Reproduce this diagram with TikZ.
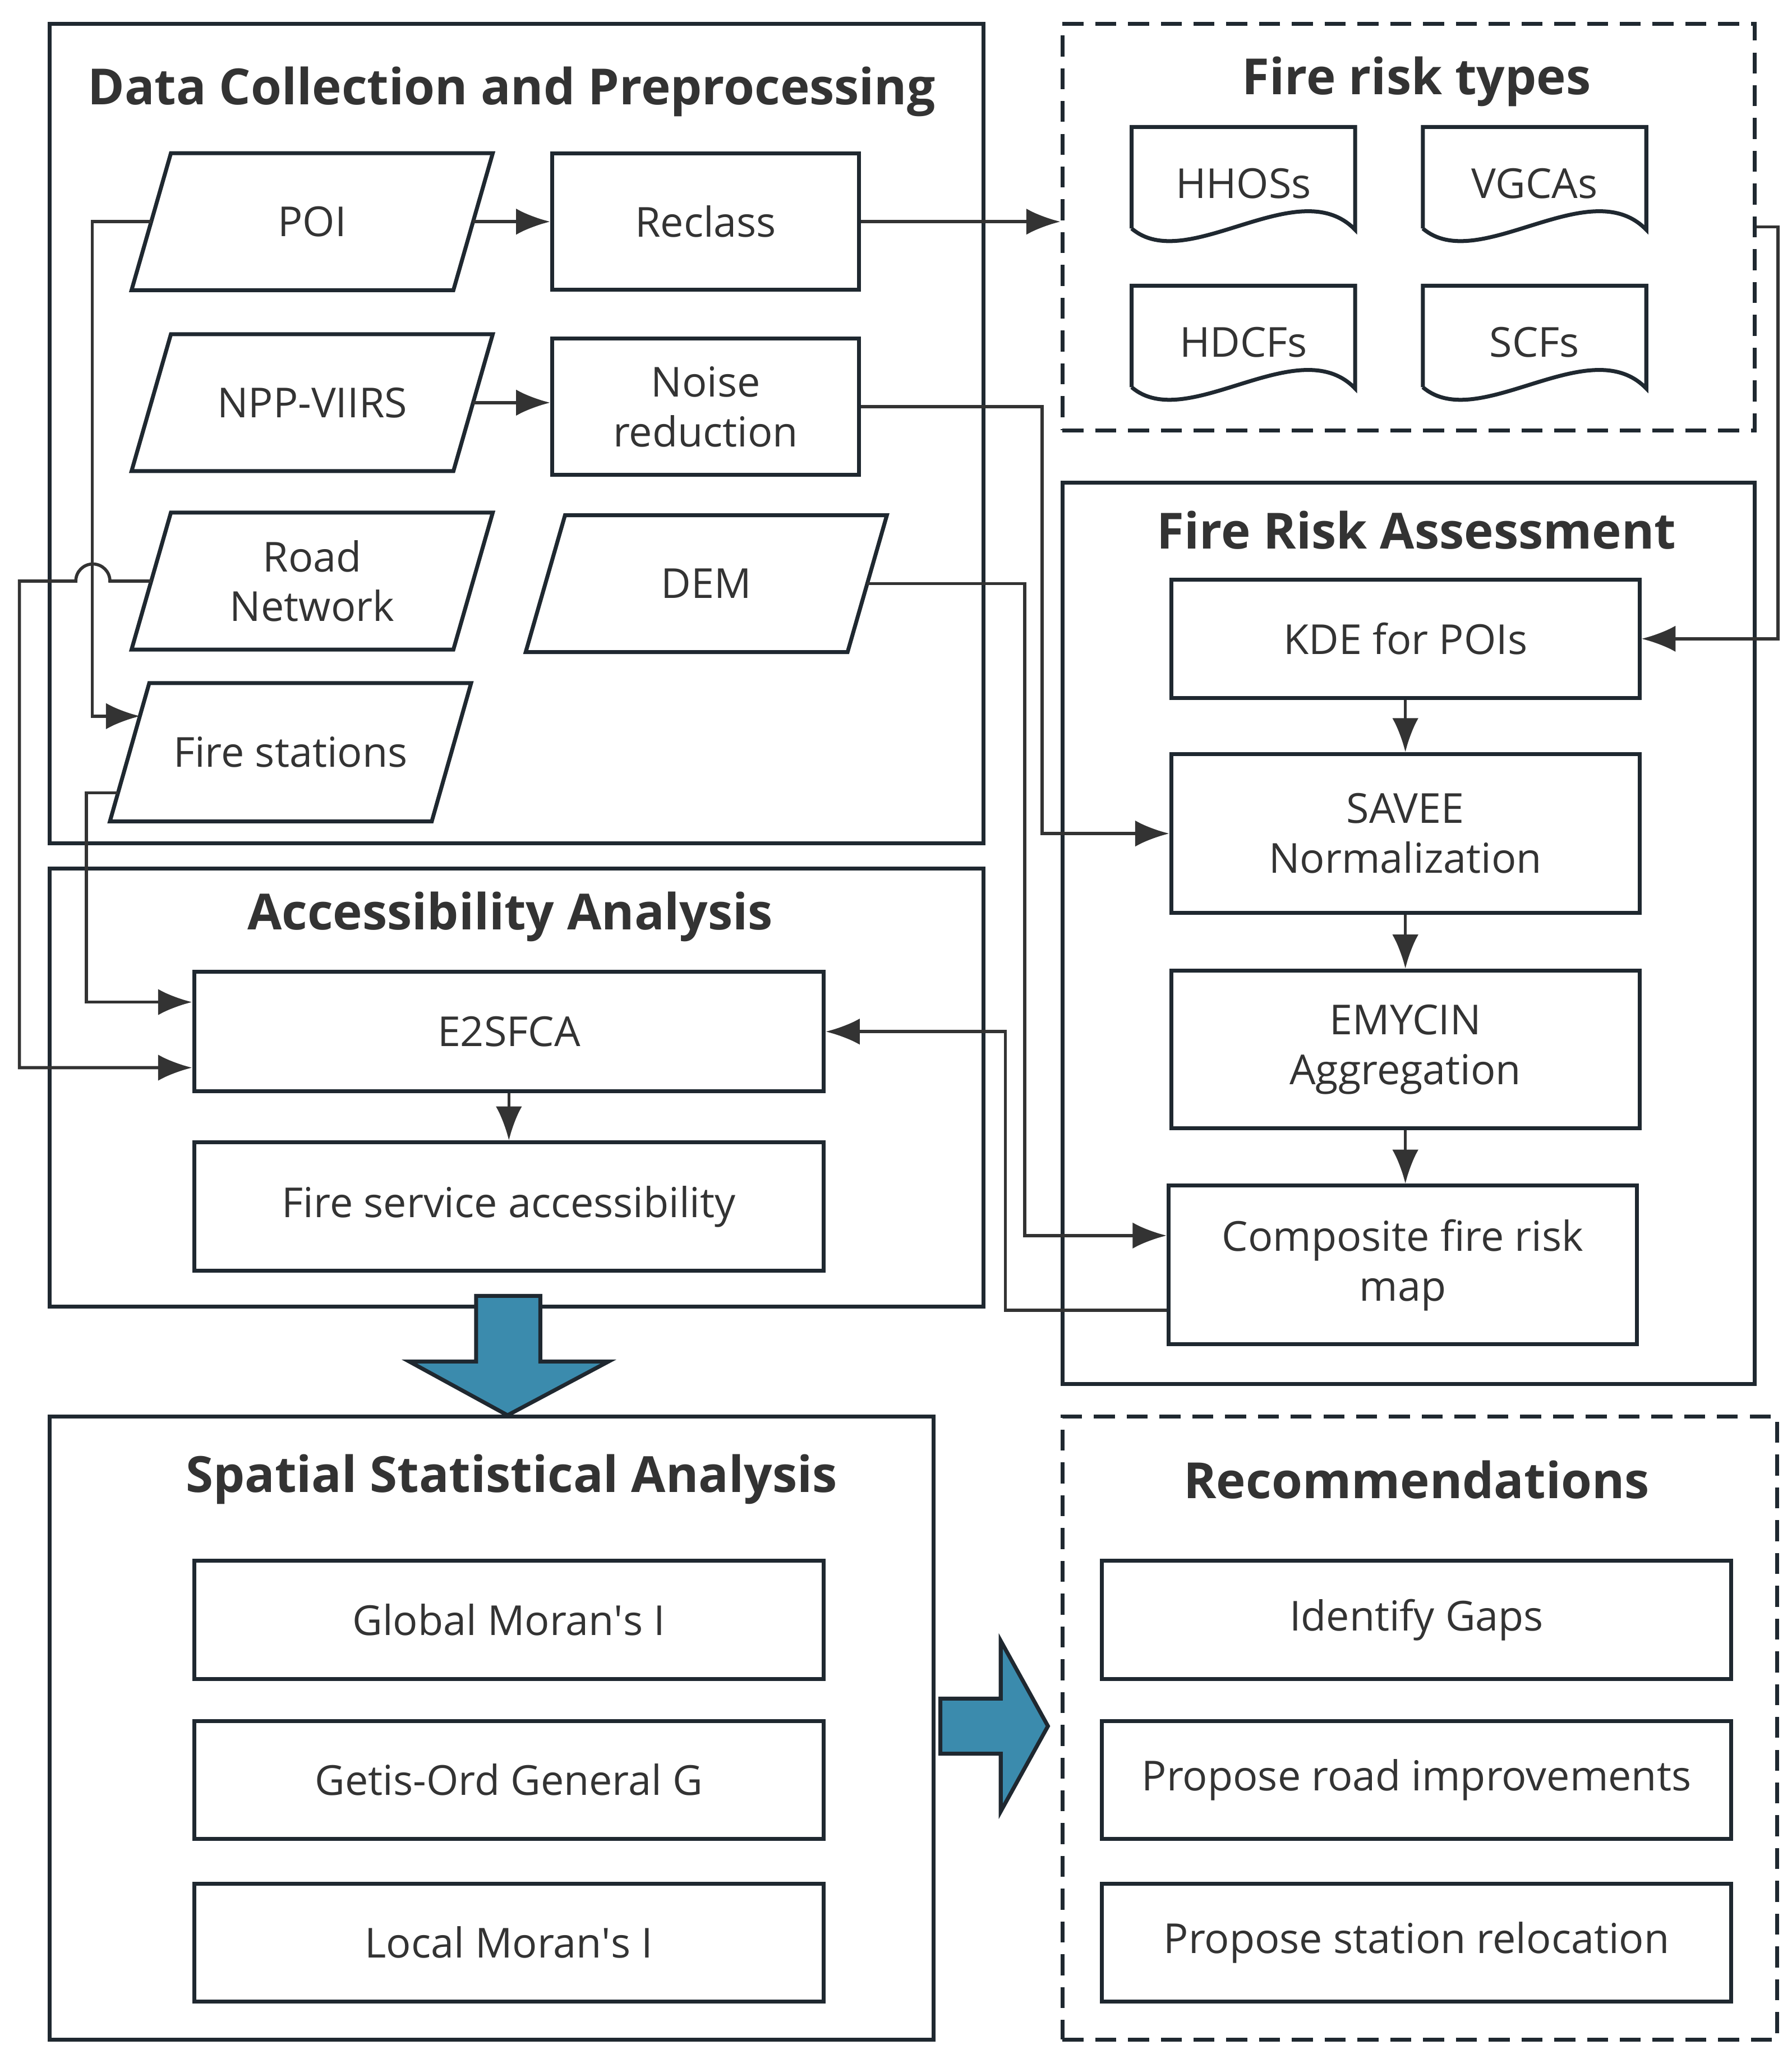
\documentclass[tikz,border=0pt]{standalone}
\usepackage{fontspec}
\setmainfont{Open Sans}
\usetikzlibrary{arrows.meta, calc, positioning}
\definecolor{framec}{HTML}{1F2830}
\definecolor{linec}{HTML}{333333}
\definecolor{arrowblue}{HTML}{3B8BAD}
\tikzset{
  grp/.style={draw=framec, line width=3pt, inner sep=0pt},
  grpdash/.style={grp, dash pattern=on 16pt off 9pt},
  title/.style={font=\fontsize{38}{44}\selectfont\bfseries, text=linec},
  proc/.style={draw=framec, line width=3pt, inner sep=0pt, font=\fontsize{31.5}{38}\selectfont, text=linec, align=center},
  io/.style={inner sep=0pt, minimum width=245, minimum height=104, font=\fontsize{31.5}{38}\selectfont, text=linec, align=center},
  docu/.style={inner sep=0pt, minimum width=170, minimum height=86, font=\fontsize{31.5}{38}\selectfont, text=linec},
  conn/.style={draw=linec, line width=2.4pt, -{Latex[length=26pt,width=20pt]}},
  bigarrow/.style={draw=framec, fill=arrowblue, line width=3pt, line join=miter},
}
\begin{document}
\begin{tikzpicture}[x=1pt, y=-1pt]
\useasboundingbox (0,0) rectangle (1366,1566);
% group frames
\node[grp, minimum width=712, minimum height=625] (dcp) at (394,330.5) {};
\node[grpdash, minimum width=528, minimum height=310] (frt) at (1074,173) {};
\node[grp, minimum width=528, minimum height=687] (fra) at (1074,711.5) {};
\node[grp, minimum width=712, minimum height=334] (acc) at (394,829) {};
\node[grp, minimum width=674, minimum height=475] (ssa) at (375,1317.5) {};
\node[grpdash, minimum width=545, minimum height=475] (rec) at (1082.5,1317.5) {};
\node[title] at (390,70) {Data Collection and Preprocessing};
\node[title] at (1080,62) {Fire risk types};
\node[title] at (1080,404) {Fire Risk Assessment};
\node[title] at (389,699) {Accessibility Analysis};
\node[title] at (390,1128) {Spatial Statistical Analysis};
\node[title] at (1080,1128) {Recommendations};
% data inputs
\node[io] (poi) at (238,169) {POI};
\node[io] (npp) at (238,307) {NPP-VIIRS};
\node[io] (road) at (238,443) {Road\\Network};
\node[io] (dem) at (538.5,445) {DEM};
\node[io, minimum height=105] (fire) at (221.5,573.5) {Fire stations};
\foreach \n in {poi,npp,road,dem,fire}
  \draw[framec, line width=3pt, line join=miter] ($(\n.north west)+(15,0)$) -- ($(\n.north east)+(15,0)$) -- ($(\n.south east)+(-15,0)$) -- ($(\n.south west)+(-15,0)$) -- cycle;
\node[proc, minimum width=234, minimum height=104] (reclass) at (538,169) {Reclass};
\node[proc, minimum width=234, minimum height=104] (noise) at (538,310) {Noise\\reduction};
% fire risk types
\node[docu] (hhos) at (948,140) {HHOSs};
\node[docu] (vgca) at (1170,140) {VGCAs};
\node[docu] (hdcf) at (948,261) {HDCFs};
\node[docu] (scf) at (1170,261) {SCFs};
\foreach \n in {hhos,vgca,hdcf,scf}
  \draw[framec, line width=3pt, line join=miter] ($(\n.south west)+(0,-9)$) -- (\n.north west) -- (\n.north east) -- ($(\n.south east)+(0,-8)$) .. controls ($(\n.south west)+(127,-53)$) and ($(\n.south west)+(42,27)$) .. ($(\n.south west)+(0,-9)$);
% fire risk assessment
\node[proc, minimum width=357, minimum height=90] (kde) at (1071.5,487) {KDE for POIs};
\node[proc, minimum width=357, minimum height=121] (savee) at (1071.5,635.5) {SAVEE\\Normalization};
\node[proc, minimum width=357, minimum height=120] (emycin) at (1071.5,800) {EMYCIN\\Aggregation};
\node[proc, minimum width=357, minimum height=121] (composite) at (1069.5,964.5) {Composite fire risk\\map};
% accessibility
\node[proc, minimum width=480, minimum height=91] (e2sfca) at (388,786.5) {E2SFCA};
\node[proc, minimum width=480, minimum height=98] (fsa) at (388,920) {Fire service accessibility};
% spatial statistics
\node[proc, minimum width=480, minimum height=90] (gmi) at (388,1235) {Global Moran\textquotesingle s I};
\node[proc, minimum width=480, minimum height=90] (gog) at (388,1357) {Getis-Ord General G};
\node[proc, minimum width=480, minimum height=90] (lmi) at (388,1481) {Local Moran\textquotesingle s I};
% recommendations
\node[proc, minimum width=480, minimum height=90] (gaps) at (1080,1235) {Identify Gaps};
\node[proc, minimum width=480, minimum height=90] (roadimp) at (1080,1357) {Propose road improvements};
\node[proc, minimum width=480, minimum height=90] (reloc) at (1080,1481) {Propose station relocation};
% connectors
\coordinate (firein) at ($(fire.west)+(8,-27.5)$);
\coordinate (fireout) at ($(fire.west)+(-9,31)$);
\draw[conn] (poi.east) -- (reclass.west);
\draw[conn] (npp.east) -- (npp.east -| noise.west);
\draw[conn] (poi.west) -- ++(-45,0) |- (firein);
\draw[conn] (road.west) -- ++(-31.5,0) arc[start angle=0, end angle=180, radius=13pt] -- ++(-43,0) |- ($(e2sfca.west)+(0,27.5)$);
\draw[conn] (fireout) -- ++(-24,0) |- ($(e2sfca.west)+(0,-22.5)$);
\draw[conn] (reclass.east) -- (reclass.east -| frt.west);
\draw[conn] (noise.east) -- ++(138,0) |- (savee.west);
\draw[conn] (dem.east) -- ++(120,0) |- ($(composite.west)+(0,-22.5)$);
\draw[conn] ($(composite.west)+(0,34.5)$) -- ++(-123,0) |- (e2sfca.east);
\draw[conn] (frt.east) -- ++(16,0) |- (kde.east);
\draw[conn] (kde.south) -- (savee.north);
\draw[conn] (savee.south) -- (emycin.north);
\draw[conn] (emycin.south) -- (emycin.south |- composite.north);
\draw[conn] (e2sfca.south) -- (fsa.north);
% flow arrows
\draw[bigarrow] (363,988) -- (412,988) -- (412,1038) -- (464,1038) -- (387,1079) -- (312,1038) -- (363,1038) -- cycle;
\draw[bigarrow] (717,1295) -- (763,1295) -- (763,1251) -- (799,1316) -- (763,1381) -- (763,1337) -- (717,1337) -- cycle;
\end{tikzpicture}
\end{document}
